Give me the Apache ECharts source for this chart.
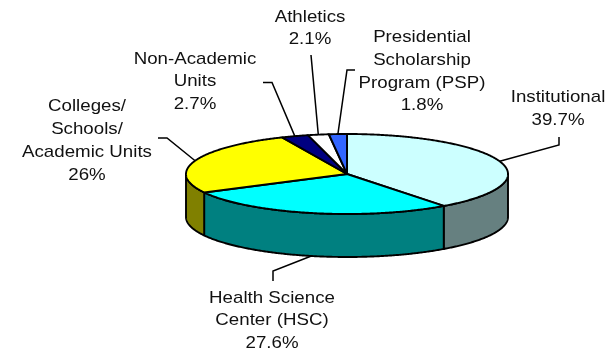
<!DOCTYPE html>
<html>
<head>
<meta charset="utf-8">
<script src="https://cdn.jsdelivr.net/npm/echarts@6/dist/echarts.min.js"></script>
<style>
  html, body { margin: 0; padding: 0; background: #fff; }
  #chart { width: 614px; height: 353px; }
</style>
</head>
<body>
<div id="chart"></div>
<script>
// Slice names (line breaks as shown in the labels) and their shares in percent
const categories = [
  'Institutional',
  'Health Science\nCenter (HSC)',
  'Colleges/\nSchools/\nAcademic Units',
  'Non-Academic\nUnits',
  'Athletics',
  'Presidential\nScholarship\nProgram (PSP)'
];
const shares = [39.7, 27.6, 26, 2.7, 2.1, 1.8];

// Face colours: top of each slice and its darker rim
const topColors  = ['#CCFFFF', '#00FFFF', '#FFFF00', '#000080', '#FFFFFF', '#3366FF'];
const sideColors = ['#668080', '#008080', '#808000', '#000040', '#808080', '#1A3380'];

// Tilted-disc geometry (pixels)
const pie = { cx: 347, cy: 174, rx: 161, ry: 40, depth: 43 };

// Label placement: block centre x, first-line baseline y, and leader elbow points
const labelLayout = [
  { x: 558, y: 103.5, leader: [[559, 137], [559, 145]] },
  { x: 272, y: 304,   leader: [[273, 281], [273, 271]] },
  { x: 87,  y: 112.7, leader: [[158, 138], [167, 138]] },
  { x: 195, y: 65,    leader: [[263, 82.5], [272, 82.5]] },
  { x: 310, y: 23,    leader: [[311, 55]] },
  { x: 422, y: 43.5,  leader: [[355, 70], [347, 70]] }
];

const FONT_SIZE = 17;
const LINE_H = 22.7;
const TEXT_SCALE_X = 1.1;

const total = shares.reduce((s, v) => s + v, 0);
const startAngles = [];
let acc = 0;
shares.forEach(v => { startAngles.push(acc / total * Math.PI * 2); acc += v; });

// angle measured clockwise from 12 o'clock
function pt(theta, dy) {
  return [pie.cx + pie.rx * Math.sin(theta), pie.cy - pie.ry * Math.cos(theta) + dy];
}
function arc(a0, a1, dy) {
  const n = Math.max(2, Math.ceil((a1 - a0) / (Math.PI / 360)) + 1);
  const out = [];
  for (let k = 0; k < n; k++) out.push(pt(a0 + (a1 - a0) * k / (n - 1), dy));
  return out;
}

const edgeStyle = { stroke: '#000', lineWidth: 1.9, lineJoin: 'round' };

function renderItem(params, api) {
  const i = params.dataIndex;
  const value = api.value(0);
  const a0 = startAngles[i];
  const a1 = a0 + value / total * Math.PI * 2;
  const children = [];

  // visible rim on the front half of the disc
  const s0 = Math.max(a0, Math.PI / 2);
  const s1 = Math.min(a1, Math.PI * 1.5);
  if (s1 > s0) {
    const pts = arc(s0, s1, 0).concat(arc(s0, s1, pie.depth).reverse());
    children.push({
      type: 'polygon',
      shape: { points: pts },
      style: Object.assign({ fill: sideColors[i] }, edgeStyle)
    });
  }

  // top face
  children.push({
    type: 'polygon',
    shape: { points: [[pie.cx, pie.cy]].concat(arc(a0, a1, 0)) },
    style: Object.assign({ fill: topColors[i] }, edgeStyle)
  });

  // leader line to the slice's mid angle (rim bottom for front slices)
  const mid = (a0 + a1) / 2;
  const anchor = Math.cos(mid) < 0 ? pt(mid, pie.depth) : pt(mid, 0);
  const lay = labelLayout[i];
  children.push({
    type: 'polyline',
    shape: { points: lay.leader.concat([anchor]) },
    style: { stroke: '#000', lineWidth: 1.5, fill: null }
  });

  // label text: name then percentage
  const text = categories[i] + '\n' + value + '%';
  children.push({
    type: 'text',
    x: lay.x,
    y: lay.y - 5.9 - LINE_H / 2,
    scaleX: TEXT_SCALE_X,
    style: {
      text: text,
      x: 0, y: 0,
      align: 'center',
      verticalAlign: 'top',
      lineHeight: LINE_H,
      fontSize: FONT_SIZE,
      fontFamily: 'Liberation Sans, Arial, sans-serif',
      fill: '#111'
    }
  });

  return { type: 'group', children: children };
}

const chart = echarts.init(document.getElementById('chart'), null, { renderer: 'canvas' });
chart.setOption({
  backgroundColor: '#fff',
  animation: false,
  series: [{
    type: 'custom',
    coordinateSystem: 'none',
    renderItem: renderItem,
    data: shares.map((v, i) => ({ name: categories[i], value: [v] }))
  }]
});
</script>
</body>
</html>
